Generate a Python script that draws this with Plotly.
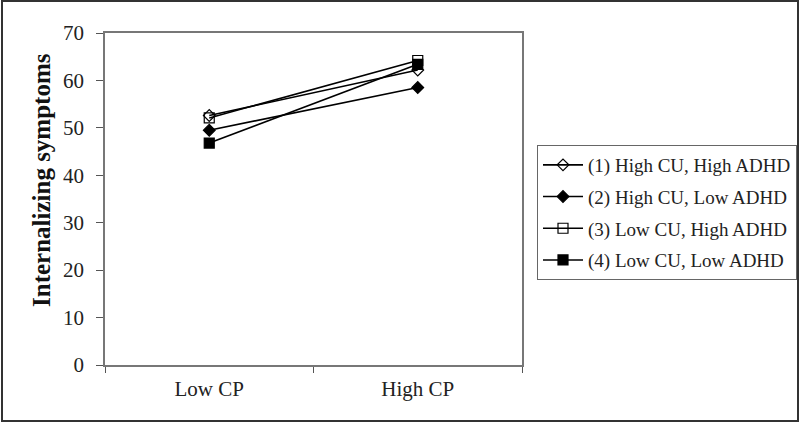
import plotly.graph_objects as go

categories = ["Low CP", "High CP"]
series_names = ["(1) High CU, High ADHD", "(2) High CU, Low ADHD",
                "(3) Low CU, High ADHD", "(4) Low CU, Low ADHD"]
s1 = [52.6, 62.2]
s2 = [49.5, 58.5]
s3 = [52.1, 64.2]
s4 = [46.8, 63.4]
y_ticks = [0, 10, 20, 30, 40, 50, 60, 70]
y_title = "Internalizing symptoms"

symbols = ["diamond-open", "diamond", "square-open", "square"]
sizes = [9, 9, 10, 10]

fig = go.Figure()
for i, (name, vals) in enumerate(zip(series_names, [s1, s2, s3, s4])):
    fig.add_trace(go.Scatter(
        x=categories, y=vals, name=name, mode="lines+markers",
        legendgroup=f"g{i}",
        line=dict(color="black", width=1.6),
        marker=dict(symbol=symbols[i], size=sizes[i], color="black",
                    line=dict(color="black", width=1.2)),
    ))

font_family = "Liberation Serif, Times New Roman, serif"
L, R, T, B = 105, 278, 33, 59
PW, PH = 800 - L - R, 424 - T - B
fig.update_layout(
    width=800, height=424,
    margin=dict(l=L, r=R, t=T, b=B, autoexpand=False),
    paper_bgcolor="white", plot_bgcolor="white",
    font=dict(family=font_family, size=18, color="#222"),
    showlegend=True,
    legend=dict(x=(537 - L) / PW, y=(424 - B - 145) / PH, xanchor="left", yanchor="top",
                bordercolor="#666", borderwidth=1, bgcolor="white",
                font=dict(size=19, family=font_family, color="#222"),
                itemwidth=40,
                traceorder="grouped", tracegroupgap=4),
    xaxis=dict(type="category", range=[-0.5, 1.5], showgrid=False,
               showline=True, linecolor="#777", linewidth=1.5, mirror=True,
               ticks="outside", tickson="boundaries", ticklen=6, tickcolor="#555",
               ticklabelstandoff=4,
               tickfont=dict(size=21, family=font_family, color="#222")),
    yaxis=dict(range=[0, 70], tickvals=y_ticks, showgrid=False, zeroline=False,
               showline=True, linecolor="#777", linewidth=1.5, mirror=True,
               ticks="outside", ticklen=7, tickcolor="#555",
               ticklabelstandoff=8,
               tickfont=dict(size=21, family=font_family, color="#222")),
    annotations=[dict(text=f"<b>{y_title}</b>", xref="paper", yref="paper",
                      x=(42 - L) / PW, y=(424 - B - 180) / PH,
                      xanchor="center", yanchor="middle", textangle=-90,
                      showarrow=False,
                      font=dict(size=25, family=font_family, color="#111"))],
    shapes=[dict(type="rect", xref="paper", yref="paper",
                 x0=(2 - L) / PW, x1=(798 - L) / PW,
                 y0=(424 - B - 421) / PH, y1=(424 - B - 1) / PH,
                 line=dict(color="#333", width=2), fillcolor="rgba(0,0,0,0)",
                 layer="below")],
)

fig.write_html("out.html", config={"displayModeBar": False},
               post_script="document.body.style.margin='0';")
